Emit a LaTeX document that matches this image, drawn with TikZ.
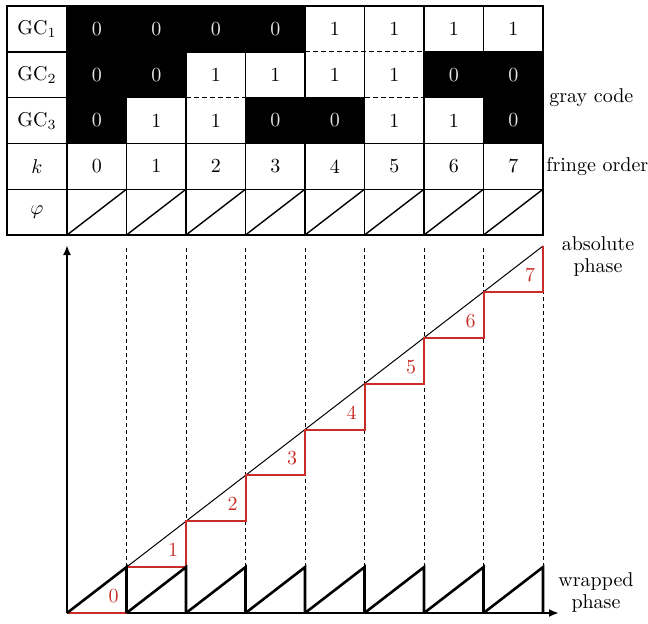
\documentclass[tikz,border=0pt]{standalone}
\usepackage{amsmath, amssymb}
\usepackage{xcolor}
\usepackage{tikz}
\usetikzlibrary{arrows.meta, positioning, calc}
\definecolor{stepred}{RGB}{200,45,40}
\definecolor{zerotext}{RGB}{228,228,228}

\begin{document}
\begin{tikzpicture}[x=0.5pt, y=-0.5pt,
    every node/.style={font=\normalsize, inner sep=0pt},
    gridline/.style={line width=0.7pt},
    dashline/.style={line width=0.6pt, dash pattern=on 2.5pt off 1.5pt},
    guide/.style={line width=0.5pt, dash pattern=on 2pt off 1.5pt},
    absline/.style={line width=0.5pt},
    stairs/.style={draw=stepred, line width=1pt},
    wrapped/.style={line width=1.3pt, line join=miter},
    axis/.style={line width=1pt, -{Latex[length=5pt, width=4pt]}},
    zerobit/.style={text=zerotext},
    onebit/.style={text=black},
    steplabel/.style={text=stepred},
    sidelabel/.style={anchor=west},
    twoline/.style={align=center, font=\fontsize{10}{11}\selectfont}
]
\useasboundingbox (0,0) rectangle (648,623);

% --- gray code cells ---
\foreach \r/\bits in {1/{0,0,0,0,1,1,1,1}, 2/{0,0,1,1,1,1,0,0}, 3/{0,1,1,0,0,1,1,0}}{
  \foreach \b [count=\c from 0] in \bits{
    \pgfmathsetmacro\xl{67+59.5*\c}
    \pgfmathsetmacro\yt{6+45.8*(\r-1)}
    \ifnum\b=0
      \fill (\xl,\yt) rectangle ++(59.5,45.8);
      \node[zerobit] (g\r-\c) at (\xl+29.75,\yt+22.9) {\b};
    \else
      \node[onebit] (g\r-\c) at (\xl+29.75,\yt+22.9) {\b};
    \fi
  }
}

% --- row labels ---
\node (gc1) at (37,28.9) {GC$_1$};
\node (gc2) at (37,74.7) {GC$_2$};
\node (gc3) at (37,120.5) {GC$_3$};
\node (klab) at (37,166.3) {$k$};
\node (philab) at (37,212.1) {$\varphi$};
\foreach \c in {0,...,7}
  \node (k\c) at ({96.75+59.5*\c},166.3) {\c};

% --- grid ---
\draw[gridline] (7,6) rectangle (543,235);
\foreach \i in {0,...,7}
  \draw[gridline] ({67+59.5*\i},6) -- ({67+59.5*\i},235);
\draw[gridline] (7,143.4) -- (543,143.4) (7,189.2) -- (543,189.2);
\draw[gridline] (7,51.8) -- (305,51.8) (424,51.8) -- (543,51.8);
\draw[dashline] (305,51.8) -- (424,51.8);
\draw[gridline] (7,97.6) -- (186,97.6) (245.5,97.6) -- (364.5,97.6) (424,97.6) -- (543,97.6);
\draw[dashline] (186,97.6) -- (245.5,97.6) (364.5,97.6) -- (424,97.6);
\foreach \c in {0,...,7}
  \draw[gridline] ({67+59.5*\c},235) -- ++(59.5,-45.8);

% --- side labels ---
\node[sidelabel] (gray) at (549,97.6) {gray code};
\node[sidelabel] (fringe) at (546,166.3) {fringe order};

% --- phase plot ---
\coordinate (O) at (67,613);
\coordinate (ytip) at (67,245);
\coordinate (xtip) at (559,613);
\coordinate (top) at (543,246);

\foreach \i in {1,...,8}
  \draw[guide] ({67+59.5*\i},248) -- ({67+59.5*\i},613);
\draw[absline] (O) -- (top);
\draw[axis] (O) -- (ytip);
\draw[axis] (O) -- (xtip);

\draw[stairs] (O) \foreach \k in {1,...,8}{
  -- ({67+59.5*\k},{613-45.875*(\k-1)}) -- ({67+59.5*\k},{613-45.875*\k}) };
\draw[wrapped] \foreach \k in {0,...,7}{
  ({67+59.5*\k},613) -- ({67+59.5*(\k+1)},567.125) -- ({67+59.5*(\k+1)},613) };

\foreach \k in {0,...,7}
  \node[steplabel] (n\k) at ({67+59.5*(\k+1)-13},{613-45.875*\k-17}) {\k};

\node[twoline] (absph) at (598,256) {absolute\\phase};
\node[twoline] (wrph) at (596,592) {wrapped\\phase};
\end{tikzpicture}
\end{document}
